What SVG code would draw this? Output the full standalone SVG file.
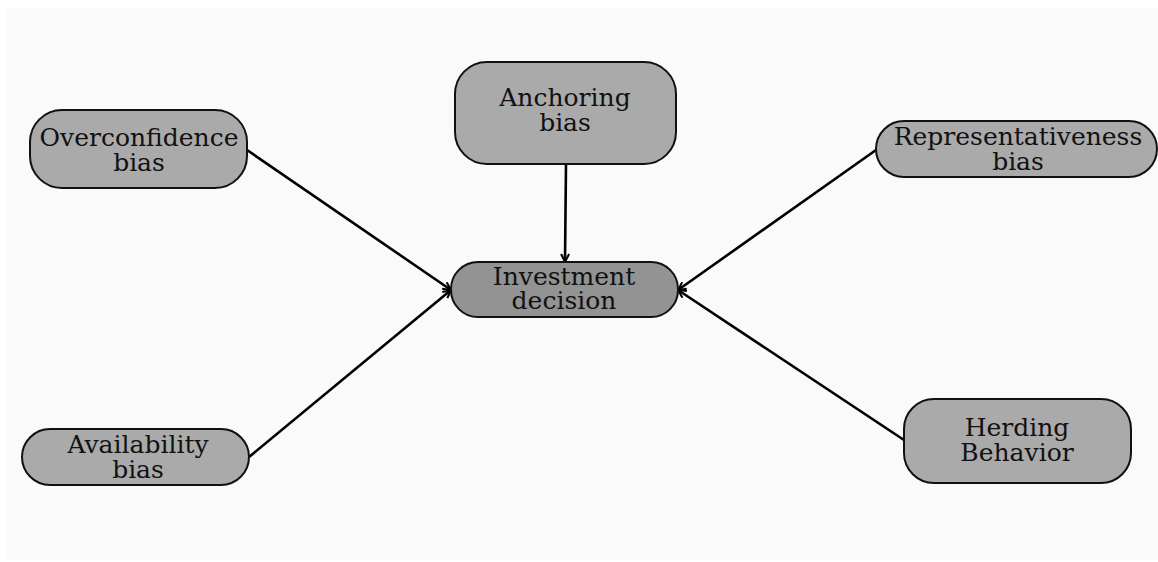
<svg xmlns="http://www.w3.org/2000/svg" width="1158" height="562" viewBox="0 0 1158 562">
  <defs>
    <marker id="arrow" viewBox="0 0 10 10" refX="9" refY="5" markerWidth="10" markerHeight="10" markerUnits="userSpaceOnUse" orient="auto">
      <path d="M1,1 L9,5 L1,9" fill="none" stroke="#000" stroke-width="2"/>
    </marker>
  </defs>
  <style>
    .node { fill: #aaaaaa; stroke: #111; stroke-width: 2; }
    .target { fill: #939393; }
    .label { font-family: "DejaVu Serif", serif; font-size: 25px; fill: #111; text-anchor: middle; }
    .edge { stroke: #000; stroke-width: 2.6; fill: none; marker-end: url(#arrow); }
  </style>
  <rect width="1158" height="562" fill="#ffffff"/>
  <rect x="7" y="8" width="1151" height="552" fill="#fafafa"/>

  <g id="connectors">
    <line class="edge" x1="247" y1="150" x2="451" y2="290"/>
    <line class="edge" x1="566" y1="164" x2="565" y2="262"/>
    <line class="edge" x1="876" y1="150" x2="678" y2="290"/>
    <line class="edge" x1="249" y1="457" x2="451" y2="290"/>
    <line class="edge" x1="904" y1="440" x2="678" y2="290"/>
  </g>

  <g id="overconfidence">
    <rect class="node" x="30" y="110" width="217" height="78" rx="32"/>
    <text class="label" x="139" y="146">Overconfidence</text>
    <text class="label" x="139" y="171">bias</text>
  </g>
  <g id="anchoring">
    <rect class="node" x="455" y="62" width="221" height="102" rx="32"/>
    <text class="label" x="565" y="106">Anchoring</text>
    <text class="label" x="565" y="131">bias</text>
  </g>
  <g id="representativeness">
    <rect class="node" x="876" y="121" width="281" height="56" rx="28"/>
    <text class="label" x="1018" y="145">Representativeness</text>
    <text class="label" x="1018" y="170">bias</text>
  </g>
  <g id="investment">
    <rect class="node target" x="451" y="262" width="227" height="55" rx="27"/>
    <text class="label" x="564" y="285">Investment</text>
    <text class="label" x="564" y="309">decision</text>
  </g>
  <g id="availability">
    <rect class="node" x="22" y="429" width="227" height="56" rx="28"/>
    <text class="label" x="138" y="453">Availability</text>
    <text class="label" x="138" y="478">bias</text>
  </g>
  <g id="herding">
    <rect class="node" x="904" y="399" width="227" height="84" rx="30"/>
    <text class="label" x="1017" y="436">Herding</text>
    <text class="label" x="1017" y="461">Behavior</text>
  </g>
</svg>
